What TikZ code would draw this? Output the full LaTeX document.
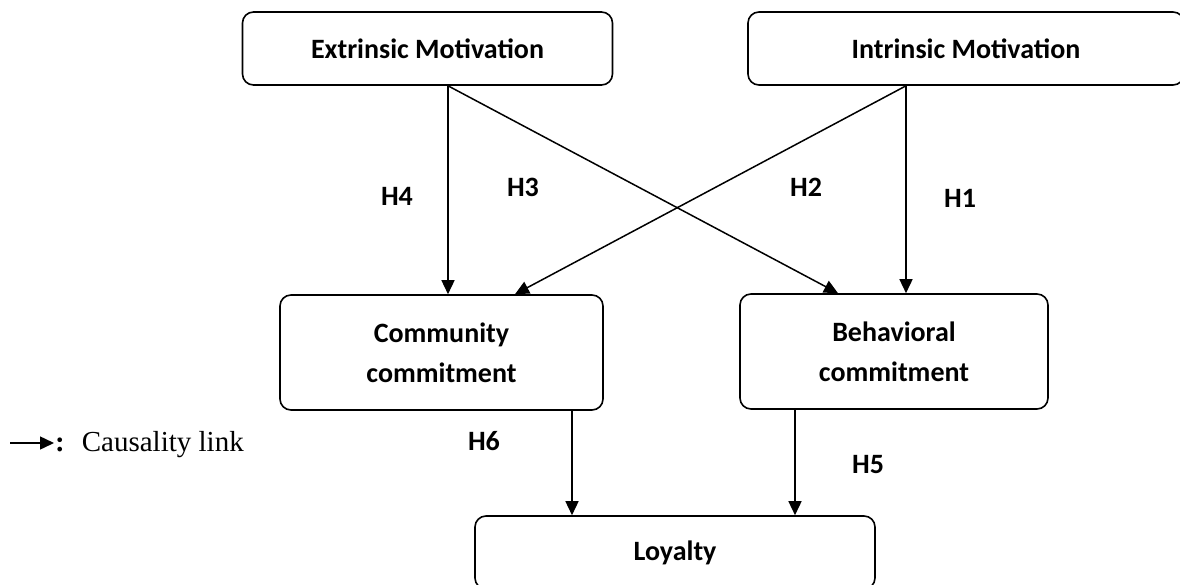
\documentclass[tikz,border=0pt]{standalone}
\usepackage{fontspec}
\setmainfont{Liberation Serif}
\newfontfamily\calfont{Carlito}
\usetikzlibrary{arrows.meta}
\begin{document}
\begin{tikzpicture}[x=1pt,y=-1pt,
  box/.style={draw=black,line width=1.6pt,rounded corners=11pt,align=center,
    font=\calfont\bfseries\fontsize{28}{40}\selectfont,inner sep=0pt},
  hlab/.style={font=\calfont\bfseries\fontsize{28}{34}\selectfont,inner sep=0pt},
  arr/.style={line width=1.5pt,-{Triangle[length=14pt,width=13pt]}}]
\useasboundingbox (0,0) rectangle (1180,584);
\clip (0,0) rectangle (1180,584);
\node[box,minimum width=370pt,minimum height=73pt] (ext) at (427.5,48.5) {Extrinsic Motivation};
\node[box,minimum width=436pt,minimum height=73pt] (int) at (966,48.5) {Intrinsic Motivation};
\node[box,minimum width=323pt,minimum height=115pt] (comm) at (441.5,352.5) {Community\\commitment};
\node[box,minimum width=308pt,minimum height=115pt] (beh) at (894,351.5) {Behavioral\\commitment};
\node[box,minimum width=400pt,minimum height=73pt] (loy) at (675,552.5) {Loyalty};
\coordinate (eA) at (448,0);
\coordinate (iA) at (906,0);
\coordinate (cIn) at (515,0);
\coordinate (bIn) at (838,0);
\coordinate (cOut) at (572,0);
\coordinate (bOut) at (795,0);
\draw[arr] (ext.south -| eA) -- (comm.north -| eA);
\draw[arr] (ext.south -| eA) -- (beh.north -| bIn);
\draw[arr] (int.south -| iA) -- (comm.north -| cIn);
\draw[arr] (int.south -| iA) -- (beh.north -| iA);
\draw[arr] (comm.south -| cOut) -- (loy.north -| cOut);
\draw[arr] (beh.south -| bOut) -- (loy.north -| bOut);
\node[hlab] (h4) at (397,196) {H4};
\node[hlab] (h3) at (523,187) {H3};
\node[hlab] (h2) at (806,187) {H2};
\node[hlab] (h1) at (960,198) {H1};
\node[hlab] (h6) at (484,441) {H6};
\node[hlab] (h5) at (868,465) {H5};
\coordinate (legS) at (10,443);
\coordinate (legE) at (54,443);
\draw[arr] (legS) -- (legE);
\node[anchor=base west,inner sep=0pt,font=\fontsize{29}{34}\selectfont] (legend) at (55,451) {\textbf{:}\hspace{17pt}Causality link};
\end{tikzpicture}
\end{document}
